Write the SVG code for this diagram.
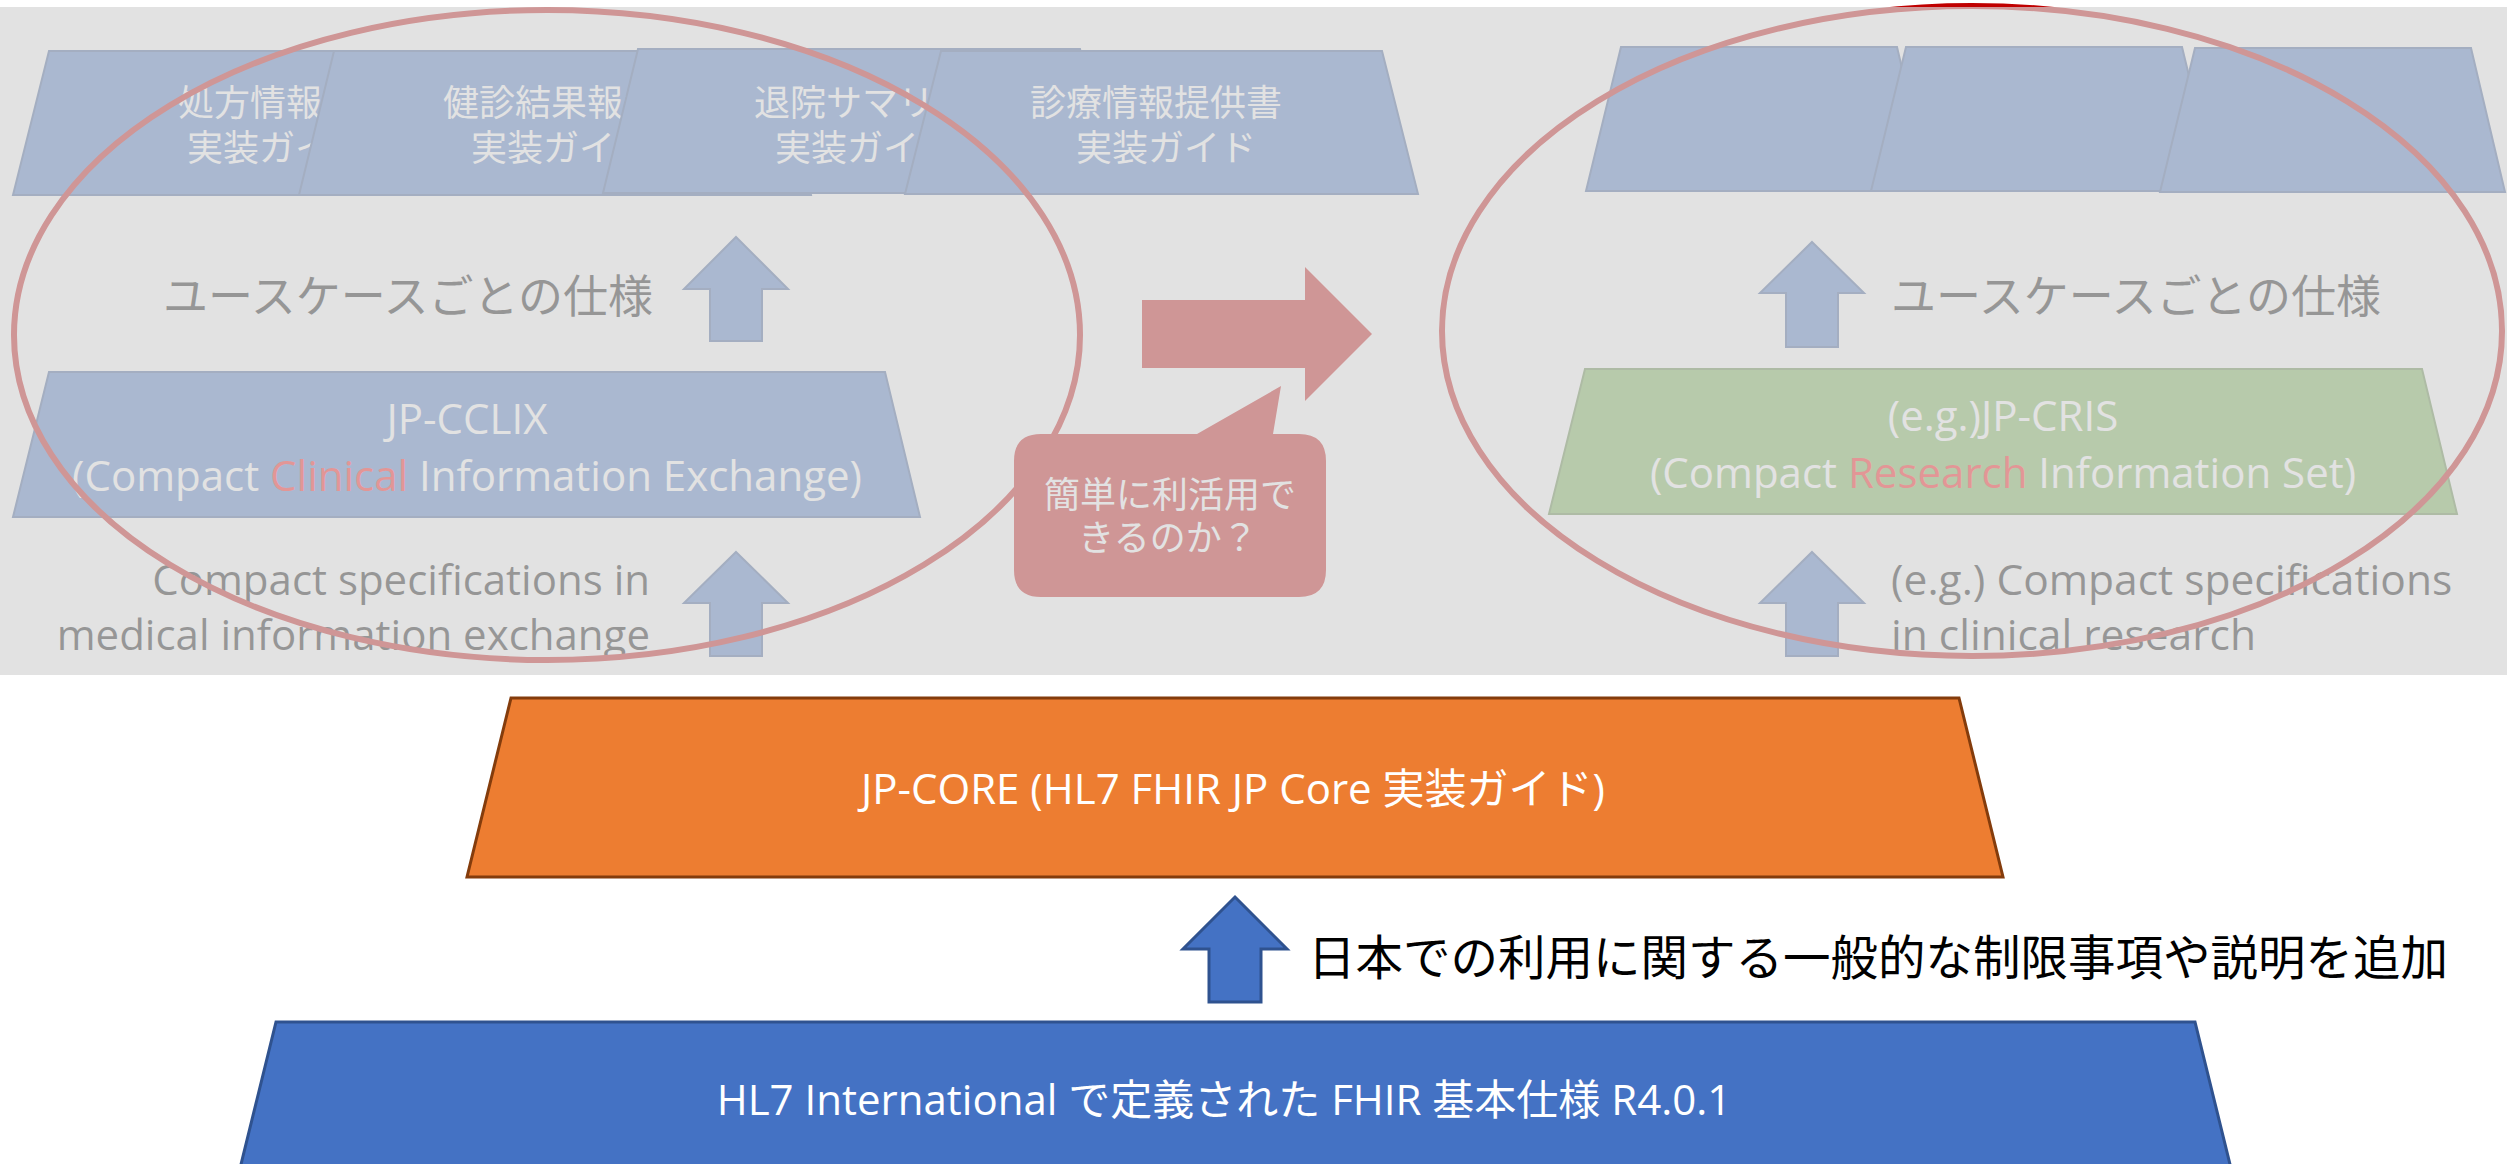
<svg xmlns="http://www.w3.org/2000/svg" width="2507" height="1164" viewBox="0 0 2507 1164">
<style>
.cjk{font-family:"Noto Sans CJK JP","Noto Sans CJK SC",sans-serif}
.lat{font-family:"Open Sans","Noto Sans CJK JP",sans-serif}
.trap{fill:#4472C4;stroke:#2F528F;stroke-width:2}
.uparrow{fill:#4472C4;stroke:#2F528F;stroke-width:2}
.ring{fill:none;stroke:#C00000;stroke-width:6}
.wt{fill:#FFFFFF}
.gt{fill:#000000}
.rd{fill:#FF0000}
</style>
<rect x="0" y="0" width="2507" height="1164" fill="#FFFFFF"/>

<g id="usecase-left">
  <g id="ig-prescription">
    <polygon class="trap" points="49,51 489,51 525,195 13,195"/>
    <text class="cjk wt" font-size="36"><tspan x="178" y="116">処方情報</tspan><tspan x="187" y="161">実装ガイド</tspan></text>
  </g>
  <g id="ig-checkup">
    <polygon class="trap" points="334,51 775,51 811,195 299,195"/>
    <text class="cjk wt" font-size="36"><tspan x="443" y="116">健診結果報告書</tspan><tspan x="471" y="161">実装ガイド</tspan></text>
  </g>
  <g id="ig-discharge">
    <polygon class="trap" points="638,49 1080,49 1116,193 603,193"/>
    <text class="cjk wt" font-size="36"><tspan x="754" y="116">退院サマリー</tspan><tspan x="775" y="161">実装ガイド</tspan></text>
  </g>
  <g id="ig-referral">
    <polygon class="trap" points="941,51 1382,51 1418,194 905,194"/>
    <text class="cjk wt" font-size="36"><tspan x="1030" y="116">診療情報提供書</tspan><tspan x="1076" y="161">実装ガイド</tspan></text>
  </g>
</g>

<g id="usecase-right">
  <polygon id="ig-r1" class="trap" points="1621,47 1897,47 1931,191 1586,191"/>
  <polygon id="ig-r2" class="trap" points="1906,47 2182,47 2217,191 1871,191"/>
  <polygon id="ig-r3" class="trap" points="2195,48 2471,48 2505,192 2160,192"/>
</g>

<g id="label-usecase-left">
  <text class="cjk gt" font-size="45" x="653" y="313" text-anchor="end">ユースケースごとの仕様</text>
</g>
<g id="label-usecase-right">
  <text class="cjk gt" font-size="45" x="1891" y="313">ユースケースごとの仕様</text>
</g>

<g id="jp-cclix">
  <polygon class="trap" points="49,372 885,372 920,517 13,517"/>
  <text class="lat wt" font-size="42" text-anchor="middle"><tspan x="467" y="434">JP-CCLIX</tspan><tspan x="467" y="491">(Compact <tspan class="rd">Clinical</tspan> Information Exchange)</tspan></text>
</g>

<g id="jp-cris">
  <polygon points="1585,369 2422,369 2457,514 1549,514" fill="#70AD47" stroke="#507E32" stroke-width="2"/>
  <text class="lat wt" font-size="42" text-anchor="middle"><tspan x="2003" y="431">(e.g.)JP-CRIS</tspan><tspan x="2003" y="488">(Compact <tspan class="rd">Research</tspan> Information Set)</tspan></text>
</g>

<g id="label-compact-left">
  <text class="lat gt" font-size="42" text-anchor="end"><tspan x="650" y="595">Compact specifications in</tspan><tspan x="650" y="650">medical information exchange</tspan></text>
</g>
<g id="label-compact-right">
  <text class="lat gt" font-size="42.5"><tspan x="1891" y="595">(e.g.) Compact specifications</tspan><tspan x="1891" y="650">in clinical research</tspan></text>
</g>

<g id="connectors">
  <path class="uparrow" d="M736,237 L788,289 L762,289 L762,341 L710,341 L710,289 L684,289 Z"/>
  <path class="uparrow" d="M736,552 L788,603 L762,603 L762,656 L710,656 L710,603 L684,603 Z"/>
  <path class="uparrow" d="M1812,242 L1864,293 L1838,293 L1838,347 L1786,347 L1786,293 L1760,293 Z"/>
  <path class="uparrow" d="M1812,552 L1864,603 L1838,603 L1838,656 L1786,656 L1786,603 L1760,603 Z"/>
  <path d="M1142,300 L1305,300 L1305,267 L1372,334 L1305,401 L1305,368 L1142,368 Z" fill="#C00000"/>
  <path d="M1235,897 L1287,949 L1261,949 L1261,1002 L1209,1002 L1209,949 L1183,949 Z" fill="#4472C4" stroke="#2F528F" stroke-width="3"/>
</g>

<g id="scope-left">
  <ellipse class="ring" cx="547" cy="335" rx="533" ry="325"/>
</g>
<g id="scope-right">
  <ellipse class="ring" cx="1972" cy="331" rx="530" ry="325"/>
</g>

<g id="callout">
  <path d="M1041,434 L1197,434 L1281,386 L1273,434 L1299,434 Q1326,434 1326,461 L1326,570 Q1326,597 1299,597 L1041,597 Q1014,597 1014,570 L1014,461 Q1014,434 1041,434 Z" fill="#C00000"/>
  <text class="cjk wt" font-size="36" text-anchor="middle"><tspan x="1170" y="508">簡単に利活用で</tspan><tspan x="1168" y="551">きるのか？</tspan></text>
</g>

<rect id="fade-panel" x="0" y="7" width="2507" height="668" fill="#D6D6D6" fill-opacity="0.7"/>

<g id="jp-core">
  <polygon points="511,698 1959,698 2003,877 467,877" fill="#ED7D31" stroke="#843C0C" stroke-width="3"/>
  <text class="lat wt" font-size="42" x="1233" y="804" text-anchor="middle">JP-CORE (HL7 FHIR JP Core 実装ガイド)</text>
</g>

<g id="label-jp-restrictions">
  <text class="cjk gt" font-size="47.5" x="1308" y="975">日本での利用に関する一般的な制限事項や説明を追加</text>
</g>

<g id="fhir-base">
  <polygon points="276,1022 2195,1022 2240,1205 231,1205" fill="#4472C4" stroke="#2F528F" stroke-width="3"/>
  <text class="lat wt" font-size="42" x="1224" y="1115" text-anchor="middle">HL7 International で定義された FHIR 基本仕様 R4.0.1</text>
</g>
</svg>
